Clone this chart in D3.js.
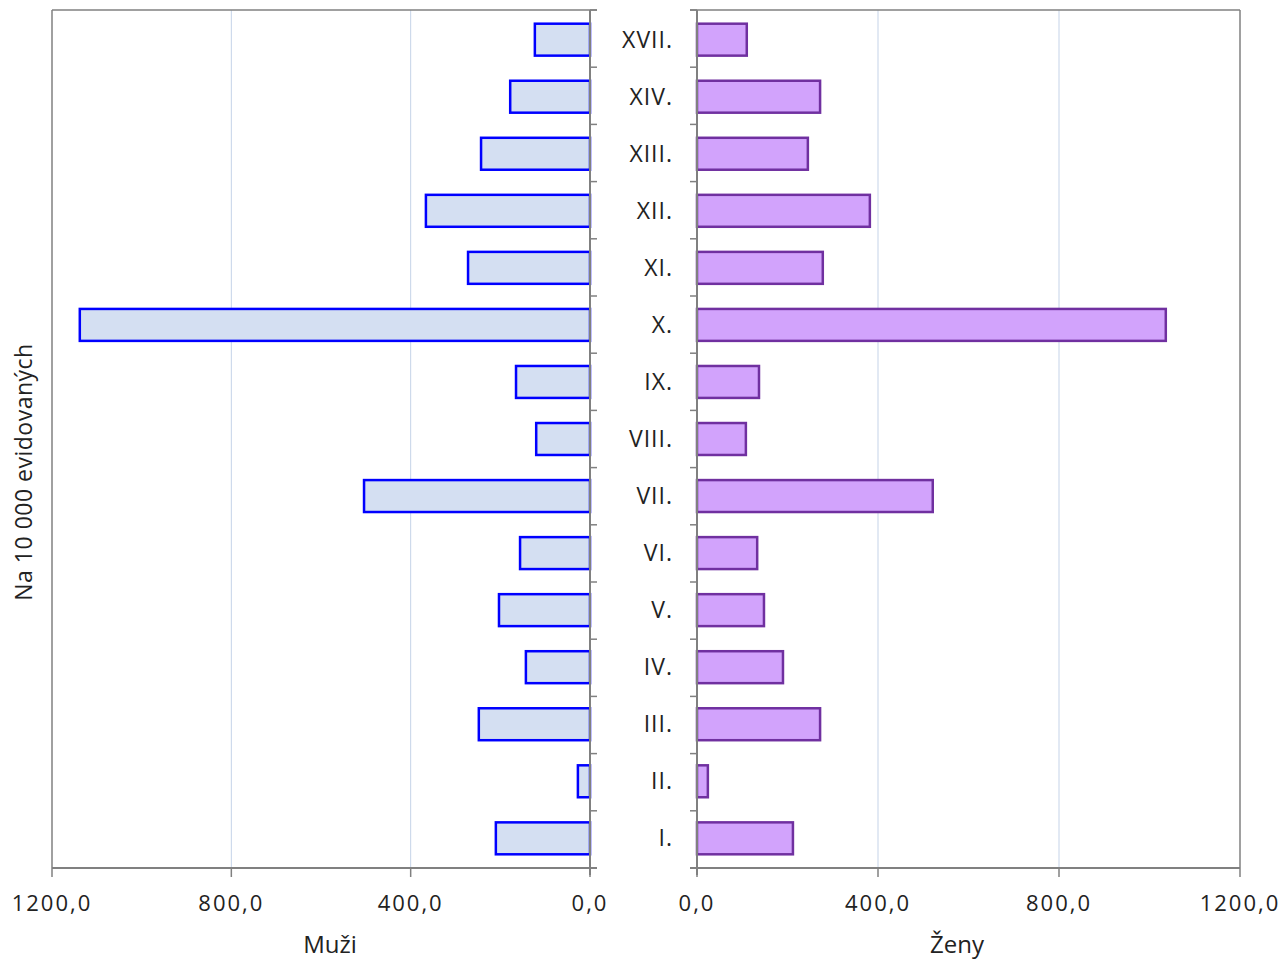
<!DOCTYPE html>
<html>
<head>
<meta charset="utf-8">
<script src="https://cdn.jsdelivr.net/npm/d3@7"></script>
<style>
  body { margin: 0; background: #fff; }
  text { font-family: "Open Sans", sans-serif; fill: #222; }
</style>
</head>
<body>
<svg id="chart" width="1285" height="960"></svg>
<script>
// Butterfly bar chart: men (left) vs women (right), per 10 000 registered

const categories = ["XVII.", "XIV.", "XIII.", "XII.", "XI.", "X.", "IX.", "VIII.", "VII.", "VI.", "V.", "IV.", "III.", "II.", "I."];
const muzi = [123, 178, 243, 366, 272, 1138, 165, 120, 504, 156, 203, 143, 248, 27, 210];
const zeny = [110, 272, 245, 382, 278, 1036, 137, 108, 521, 133, 148, 190, 272, 24, 212];
const ticks = [0, 400, 800, 1200];

const svg = d3.select("#chart");
const plotTop = 10, plotBottom = 868;
const fmt = v => d3.format(".1f")(v).replace(".", ",");

const y = d3.scaleBand()
  .domain(categories)
  .range([plotTop, plotBottom])
  .paddingInner(0.44)
  .paddingOuter(0.24);

// band boundaries for category ticks
const yEdge = d3.scaleLinear().domain([0, categories.length]).range([plotTop, plotBottom]);

const xL = d3.scaleLinear().domain([1200, 0]).range([52, 590]);
const xR = d3.scaleLinear().domain([0, 1200]).range([697, 1240]);

const axisColor = "#808080";

// gridlines
[[xL, [400, 800]], [xR, [400, 800]]].forEach(([x, vals]) => {
  svg.append("g").selectAll("line")
    .data(vals).join("line")
    .attr("x1", d => x(d)).attr("x2", d => x(d))
    .attr("y1", plotTop).attr("y2", plotBottom)
    .attr("stroke", "#c5d3e8").attr("stroke-width", 1);
});

// frame lines (top and outer sides)
svg.append("line").attr("x1", xL(1200)).attr("x2", xL(0) + 7).attr("y1", plotTop).attr("y2", plotTop)
  .attr("stroke", axisColor).attr("stroke-width", 1.5);
svg.append("line").attr("x1", xR(0) - 7).attr("x2", xR(1200)).attr("y1", plotTop).attr("y2", plotTop)
  .attr("stroke", axisColor).attr("stroke-width", 1.5);
svg.append("line").attr("x1", xL(1200)).attr("x2", xL(1200)).attr("y1", plotTop).attr("y2", plotBottom)
  .attr("stroke", axisColor).attr("stroke-width", 1.5);
svg.append("line").attr("x1", xR(1200)).attr("x2", xR(1200)).attr("y1", plotTop).attr("y2", plotBottom)
  .attr("stroke", axisColor).attr("stroke-width", 1.5);

// bars
svg.append("g").selectAll("rect")
  .data(categories).join("rect")
  .attr("x", (d, i) => xL(muzi[i]))
  .attr("y", d => y(d))
  .attr("width", (d, i) => xL(0) - xL(muzi[i]))
  .attr("height", y.bandwidth())
  .attr("fill", "#d4dff2")
  .attr("stroke", "#0000ff")
  .attr("stroke-width", 2.5);

svg.append("g").selectAll("rect")
  .data(categories).join("rect")
  .attr("x", xR(0))
  .attr("y", d => y(d))
  .attr("width", (d, i) => xR(zeny[i]) - xR(0))
  .attr("height", y.bandwidth())
  .attr("fill", "#d2a3fc")
  .attr("stroke", "#7030a0")
  .attr("stroke-width", 2.5);

// inner vertical axes with category ticks
const edges = d3.range(categories.length + 1);
[[xL(0), 7], [xR(0), -7]].forEach(([x0, dx]) => {
  const g = svg.append("g");
  g.append("line").attr("x1", x0).attr("x2", x0).attr("y1", plotTop).attr("y2", plotBottom + 7)
    .attr("stroke", axisColor).attr("stroke-width", 2);
  g.selectAll(".ct").data(edges).join("line")
    .attr("class", "ct")
    .attr("x1", x0).attr("x2", x0 + dx)
    .attr("y1", d => yEdge(d)).attr("y2", d => yEdge(d))
    .attr("stroke", axisColor).attr("stroke-width", 1.5);
});

// category labels
svg.append("g").selectAll("text")
  .data(categories).join("text")
  .attr("x", 673)
  .attr("y", d => y(d) + y.bandwidth() / 2)
  .attr("dy", "0.35em")
  .attr("text-anchor", "end")
  .style("font-size", "23px")
  .style("letter-spacing", "1px")
  .text(d => d);

// bottom axes
function bottomAxis(x, x1, x2) {
  const g = svg.append("g");
  g.append("line").attr("x1", x1).attr("x2", x2).attr("y1", plotBottom).attr("y2", plotBottom)
    .attr("stroke", axisColor).attr("stroke-width", 2);
  g.selectAll(".bt").data(ticks).join("line")
    .attr("class", "bt")
    .attr("x1", d => x(d)).attr("x2", d => x(d))
    .attr("y1", plotBottom).attr("y2", plotBottom + 9)
    .attr("stroke", axisColor).attr("stroke-width", 1.5);
  g.selectAll("text").data(ticks).join("text")
    .attr("x", d => x(d))
    .attr("y", 911)
    .attr("text-anchor", "middle")
    .style("font-size", "22px")
    .style("letter-spacing", "2px")
    .text(d => fmt(d));
}
bottomAxis(xL, xL(1200), xL(0) + 7);
bottomAxis(xR, xR(0) - 7, xR(1200));

// axis titles
svg.append("text").attr("x", 330).attr("y", 953).attr("text-anchor", "middle")
  .style("font-size", "24px").text("Muži");
svg.append("text").attr("x", 957).attr("y", 953).attr("text-anchor", "middle")
  .style("font-size", "24px").text("Ženy");
svg.append("text")
  .attr("transform", "translate(32,472) rotate(-90)")
  .attr("text-anchor", "middle")
  .style("font-size", "23px")
  .style("letter-spacing", "0.5px")
  .text("Na 10 000 evidovaných");
</script>
</body>
</html>
